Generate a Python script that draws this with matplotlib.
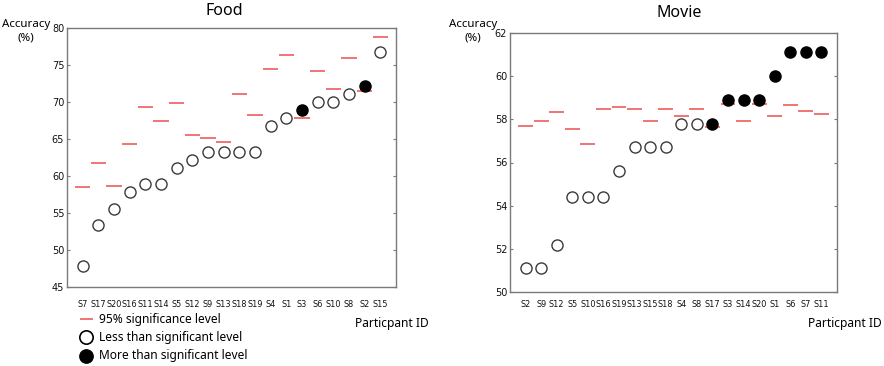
import matplotlib
matplotlib.use("Agg")
import matplotlib.pyplot as plt
from matplotlib.lines import Line2D

plt.rcParams['font.family'] = ['DejaVu Sans']

# ---------------- data ----------------
food_ids = ["S7", "S17", "S20", "S16", "S11", "S14", "S5", "S12", "S9", "S13",
            "S18", "S19", "S4", "S1", "S3", "S6", "S10", "S8", "S2", "S15"]
food_acc = [47.8, 53.4, 55.5, 57.8, 58.9, 58.9, 61.1, 62.2, 63.3, 63.3,
            63.3, 63.3, 66.7, 67.8, 68.9, 70.0, 70.0, 71.1, 72.2, 76.7]
food_sig = [58.5, 61.8, 58.7, 64.3, 69.3, 67.4, 69.8, 65.6, 65.2, 64.6,
            71.1, 68.2, 74.5, 76.4, 67.9, 74.2, 71.8, 75.9, 71.5, 78.8]

movie_ids = ["S2", "S9", "S12", "S5", "S10", "S16", "S19", "S13", "S15", "S18",
             "S4", "S8", "S17", "S3", "S14", "S20", "S1", "S6", "S7", "S11"]
movie_acc = [51.1, 51.1, 52.2, 54.4, 54.4, 54.4, 55.6, 56.7, 56.7, 56.7,
             57.8, 57.8, 57.8, 58.9, 58.9, 58.9, 60.0, 61.1, 61.1, 61.1]
movie_sig = [57.68, 57.93, 58.36, 57.53, 56.88, 58.46, 58.55, 58.5, 57.92, 58.47,
             58.16, 58.47, 57.65, 58.72, 57.9, 58.69, 58.16, 58.67, 58.4, 58.27]

food_yticks = [45, 50, 55, 60, 65, 70, 75, 80]
movie_yticks = [50, 52, 54, 56, 58, 60, 62]

W, H = 884, 366
fig = plt.figure(figsize=(W / 100, H / 100), dpi=100)

RED = '#f07474'
SPINE = '#7a7a7a'
EDGE = '#3a3a3a'
MS = 8.0


def box(l, t, r, b):
    return [l / W, 1 - b / H, (r - l) / W, (b - t) / H]


def panel(rect, ids, acc, sig, yticks, xpad):
    ax = fig.add_axes(rect)
    x = list(range(len(ids)))
    ax.hlines(sig, [i - 0.48 for i in x], [i + 0.48 for i in x],
              colors=RED, linewidth=1.4, zorder=2)
    for i, a, s in zip(x, acc, sig):
        if a > s:
            ax.plot(i, a, 'o', ms=MS, mfc='black', mec='black', mew=1.0, zorder=3)
        else:
            ax.plot(i, a, 'o', ms=MS, mfc='white', mec=EDGE, mew=1.0, zorder=3)
    ax.set_xlim(-1, len(ids))
    ax.set_ylim(yticks[0], yticks[-1])
    ax.set_yticks(yticks)
    ax.set_yticklabels([str(v) for v in yticks], fontsize=7, color='#111111')
    ax.set_xticks(x)
    ax.set_xticklabels(ids, fontsize=5.9, color='#111111')
    ax.tick_params(axis='x', length=0, pad=xpad)
    ax.tick_params(axis='y', direction='in', length=2.5, width=0.8, color=SPINE,
                   pad=2, right=True, left=True)
    for sp in ax.spines.values():
        sp.set_color(SPINE)
        sp.set_linewidth(1.0)
    return ax


ax1 = panel(box(67, 28, 396, 287), food_ids, food_acc, food_sig, food_yticks, 9.5)
ax2 = panel(box(510, 33, 837, 292), movie_ids, movie_acc, movie_sig, movie_yticks, 6.0)


def ftxt(x, y, s, **kw):
    fig.text(x / W, 1 - y / H, s, **kw)


TF = ['Noto Sans', 'DejaVu Sans']
ftxt(224, 11, "Food", fontsize=11.5, ha='center', va='center', family=TF)
ftxt(679, 13, "Movie", fontsize=11.5, ha='center', va='center', family=TF)

for cx in (26, 473):
    ftxt(cx, 24, "Accuracy", fontsize=8.3, ha='center', va='center', family=TF)
    ftxt(cx, 38, "(%)", fontsize=8.3, ha='center', va='center', family=TF)

ftxt(392, 323, "Particpant ID", fontsize=8.6, ha='center', va='center', family=TF)
ftxt(845, 323, "Particpant ID", fontsize=8.6, ha='center', va='center', family=TF)

# legend (manual, in figure coords)
fig.add_artist(Line2D([81 / W, 92 / W], [1 - 319 / H, 1 - 319 / H],
                      color=RED, lw=1.4, transform=fig.transFigure))
fig.add_artist(Line2D([86 / W], [1 - 337 / H], marker='o', ms=9.6, mfc='white',
                      mec='black', mew=1.2, ls='none', transform=fig.transFigure))
fig.add_artist(Line2D([86 / W], [1 - 356 / H], marker='o', ms=9.6, mfc='black',
                      mec='black', ls='none', transform=fig.transFigure))
ftxt(99, 320, "95% significance level", fontsize=8.6, ha='left', va='center', family=TF)
ftxt(99, 337, "Less than significant level", fontsize=8.6, ha='left', va='center', family=TF)
ftxt(99, 356, "More than significant level", fontsize=8.6, ha='left', va='center', family=TF)

fig.savefig("out.png", dpi=100)
